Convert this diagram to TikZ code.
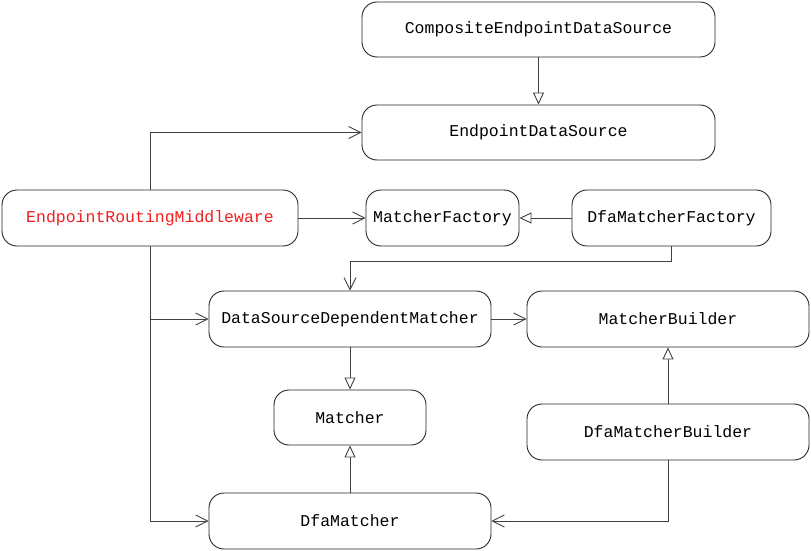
\documentclass[tikz,border=0pt]{standalone}
\usepackage{fontspec}
\setmainfont{Liberation Mono}
\usetikzlibrary{arrows.meta}
\begin{document}
\begin{tikzpicture}[x=1pt,y=-1pt,
  box/.style={draw=black!85, line width=0.9pt, rounded corners=15pt, inner sep=0pt, font=\fontsize{16.5}{20}\selectfont},
  assoc/.style={draw=black!75, line width=0.9pt, -{Straight Barb[length=12pt,width=12pt]}},
  inh/.style={draw=black!75, line width=0.9pt, -{Triangle[open,length=12pt,width=11pt,fill=white]}}]
\useasboundingbox (0,0) rectangle (811,551);
\node[box, minimum width=353pt, minimum height=55pt] (ceds) at (538.5,29.5) {CompositeEndpointDataSource};
\node[box, minimum width=353pt, minimum height=55pt] (eds) at (538.5,132.5) {EndpointDataSource};
\node[box, minimum width=296pt, minimum height=56pt, text={rgb,255:red,240;green,30;blue,30}] (erm) at (150,218) {EndpointRoutingMiddleware};
\node[box, minimum width=153pt, minimum height=56pt] (mf) at (442.5,218) {MatcherFactory};
\node[box, minimum width=199pt, minimum height=56pt] (dmf) at (671.5,218) {DfaMatcherFactory};
\node[box, minimum width=282pt, minimum height=56pt] (dsdm) at (350,319) {DataSourceDependentMatcher};
\node[box, minimum width=282pt, minimum height=56pt] (mb) at (668,319) {MatcherBuilder};
\node[box, minimum width=152pt, minimum height=55pt] (m) at (350,417.5) {Matcher};
\node[box, minimum width=282pt, minimum height=56pt] (dmb) at (668,432) {DfaMatcherBuilder};
\node[box, minimum width=282pt, minimum height=56pt] (dm) at (350,521) {DfaMatcher};

\draw[inh] (ceds) -- (eds);
\draw[assoc] (erm.north) |- (eds.west);
\draw[assoc] (erm) -- (mf);
\draw[inh] (dmf) -- (mf);
\coordinate (k1) at (671.5,261);
\draw[assoc] (dmf.south) -- (k1) -| (dsdm.north);
\draw[assoc] (erm.south) |- (dsdm.west);
\draw[assoc] (erm.south) |- (dm.west);
\draw[assoc] (dsdm) -- (mb);
\draw[inh] (dsdm) -- (m);
\draw[inh] (dmb) -- (mb);
\draw[inh] (dm) -- (m);
\draw[assoc] (dmb.south) |- (dm.east);
\end{tikzpicture}
\end{document}
